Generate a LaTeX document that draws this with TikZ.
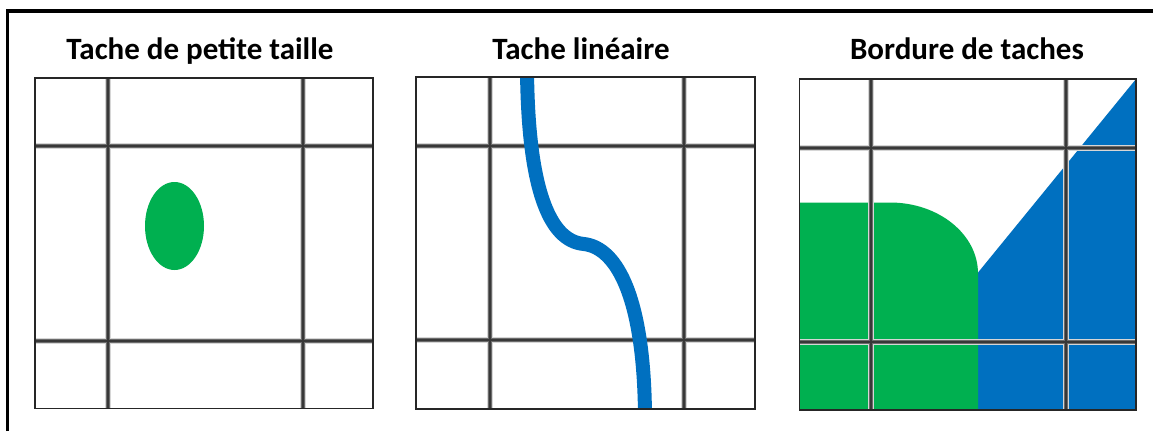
\documentclass[tikz,border=0pt]{standalone}
\usepackage{fontspec}
\setmainfont{Carlito}
\definecolor{patchgreen}{HTML}{00B050}
\definecolor{patchblue}{HTML}{0070C0}
\tikzset{
  title/.style={font=\bfseries\fontsize{31}{34}\selectfont, anchor=base, inner sep=0pt},
  halo/.style={draw=black!16, line width=6pt},
  gridmid/.style={draw=black!58, line width=4pt},
  gridcore/.style={draw=black!78, line width=2pt},
  panelborder/.style={draw=black!85, line width=1.6pt},
  frameline/.style={draw=black, line width=3.5pt},
}
% #1 left, #2 top, #3 right, #4 bottom, #5 #6 vertical lines, #7 #8 horizontal lines
\newcommand\cellgrid[8]{%
  \begin{scope}
    \clip (#1,#2) rectangle (#3,#4);
    \foreach \st in {halo,gridmid,gridcore}{
      \path[\st] (#5,#2) -- (#5,#4) (#6,#2) -- (#6,#4)
                 (#1,#7) -- (#3,#7) (#1,#8) -- (#3,#8);
    }
  \end{scope}}
\begin{document}
\begin{tikzpicture}[x=1pt,y=-1pt]
\useasboundingbox (0,0) rectangle (1153,431);
\fill[white] (0,0) rectangle (1153,431);

% outer frame: top and left edges only
\draw[frameline] (7.7,431) -- (7.7,11) -- (1153,11);

% titles
\node[title] (t1) at (200,59) {Tache de petite taille};
\node[title] (t2) at (581,59) {Tache linéaire};
\node[title] (t3) at (967,59) {Bordure de taches};

% panel 1: small patch
\cellgrid{35}{78}{373}{408.5}{107.7}{303.3}{145.7}{340.7}
\fill[patchgreen] (174.5,226) ellipse [x radius=29.5, y radius=44];
\draw[panelborder] (35,78) rectangle (373,408.5);

% panel 2: linear patch
\cellgrid{416}{77}{755}{409}{489.5}{684.3}{145.7}{340.3}
\begin{scope}
  \clip (416,77) rectangle (755,409);
  \draw[patchblue, line width=14pt]
    (527,70) .. controls (528,185) and (548,241) .. (584,244)
    .. controls (618,248) and (644,300) .. (645,415);
\end{scope}
\draw[panelborder] (416,77) rectangle (755,409);

% panel 3: patch edges
\fill[patchblue] (1136,79) -- (976,275) -- (976,410) -- (1136,410) -- cycle;
\fill[patchgreen] (799.5,410) -- (799.5,202.5) -- (890,202.5)
  arc[start angle=-90, end angle=0, x radius=88, y radius=71] -- (978,410) -- cycle;
\cellgrid{799.5}{79}{1136}{410}{870.7}{1065.7}{148.3}{342.3}
\draw[panelborder] (799.5,79) rectangle (1136,410);
\end{tikzpicture}
\end{document}
